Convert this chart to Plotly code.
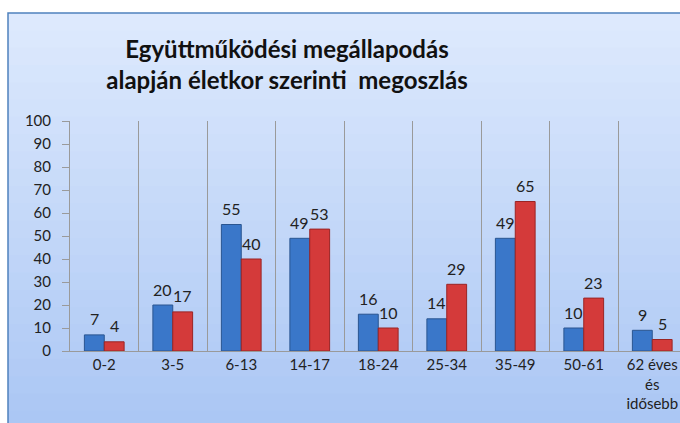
import plotly.graph_objects as go

# age groups and the two series
categories = ['0-2', '3-5', '6-13', '14-17', '18-24', '25-34', '35-49', '50-61', '62 éves<br>és<br>idősebb']
blue_vals = [7, 20, 55, 49, 16, 14, 49, 10, 9]
red_vals = [4, 17, 40, 53, 10, 29, 65, 23, 5]
title_text = 'Együttműködési megállapodás<br>alapján életkor szerinti  megoszlás'

W, H = 680, 423
ml, mt, mb = 70, 121, 72
plot_w = W - ml
plot_h = H - mt - mb
cat_w = 68.5


def px_x(p):
    return (p - ml) / plot_w


def px_y(p):
    return (H - mb - p) / plot_h


fig = go.Figure()
fig.add_trace(go.Bar(x=categories, y=blue_vals, name='a',
                     marker=dict(color='#3a77c9', line=dict(color='#2a5590', width=1))))
fig.add_trace(go.Bar(x=categories, y=red_vals, name='b',
                     marker=dict(color='#d43a3a', line=dict(color='#9a2424', width=1))))

# value labels above the bars
annotations = []
for cat, b, r in zip(categories, blue_vals, red_vals):
    for val, dx in ((b, -10), (r, 10)):
        annotations.append(dict(x=cat, y=val, xref='x', yref='y', text=str(val), showarrow=False,
                                xshift=dx, yshift=16, yanchor='middle', xanchor='center',
                                font=dict(size=16, color='#222222', family='Lato')))

# gradient background inside the blue frame
shapes = []
top, bottom = 13, H + 5
steps = 24
c0 = (0xdd, 0xe9, 0xfd)
c1 = (0xab, 0xc7, 0xf4)
for i in range(steps):
    t = i / (steps - 1)
    col = 'rgb(%d,%d,%d)' % tuple(round(c0[k] + (c1[k] - c0[k]) * t) for k in range(3))
    y_a = top + (bottom - top) * i / steps
    y_b = top + (bottom - top) * (i + 1) / steps + 1
    shapes.append(dict(type='rect', xref='paper', yref='paper',
                       x0=px_x(8), x1=px_x(W + 10), y0=px_y(y_b), y1=px_y(y_a),
                       line=dict(width=0), fillcolor=col, layer='below'))
shapes.append(dict(type='rect', xref='paper', yref='paper',
                   x0=px_x(8), x1=px_x(W + 10), y0=px_y(H + 10), y1=px_y(13),
                   line=dict(color='#4f81bd', width=1.5), fillcolor='rgba(0,0,0,0)', layer='below'))

fig.update_layout(
    width=W, height=H,
    margin=dict(l=ml, r=0, t=mt, b=mb),
    paper_bgcolor='white', plot_bgcolor='white',
    barmode='group', bargap=0.42, bargroupgap=0,
    showlegend=False,
    shapes=shapes,
    annotations=annotations,
    title=dict(text=title_text, x=287 / W, xanchor='center', y=1 - 58 / H, yanchor='middle',
               font=dict(family='Lato', size=24, color='#111111', weight='bold')),
    font=dict(family='Lato', color='#222222'),
)
fig.update_xaxes(type='category', range=[-0.5, -0.5 + plot_w / cat_w],
                 tickson='boundaries', showgrid=True, gridcolor='#9a9a9a', gridwidth=1,
                 showline=True, linecolor='#9a9a9a', ticks='', tickfont=dict(size=15, color='#222222'),
                 fixedrange=True)
fig.update_yaxes(range=[0, 100], dtick=10, showgrid=False, showline=True, linecolor='#9a9a9a',
                 ticks='outside', ticklen=7, tickcolor='#9a9a9a', zeroline=False,
                 ticklabelstandoff=8, tickfont=dict(size=15, color='#222222'))

fig.write_html("out.html", config={'displayModeBar': False},
               post_script="document.body.style.margin='0';document.body.style.overflow='hidden';")
